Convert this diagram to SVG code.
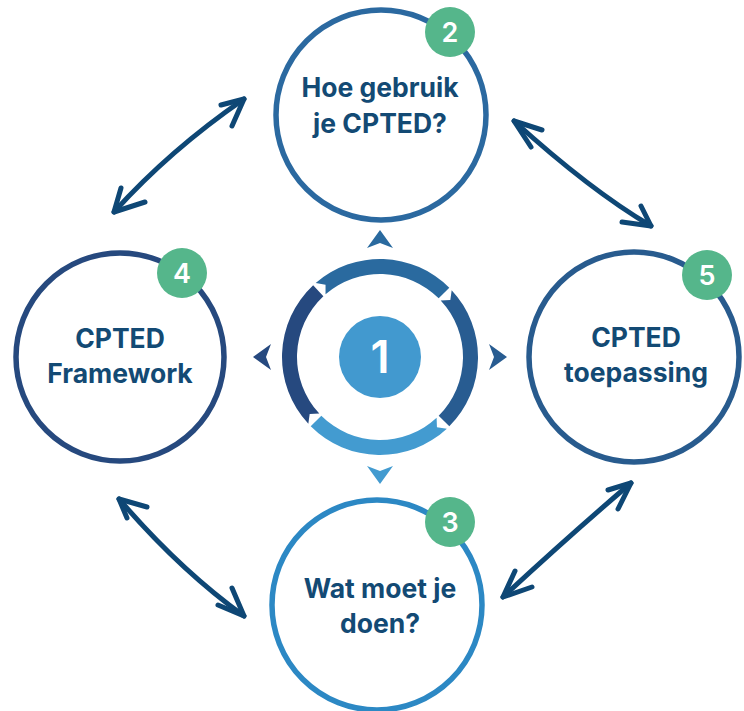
<svg xmlns="http://www.w3.org/2000/svg" width="744" height="711" viewBox="0 0 744 711">
<style>
.node{fill:#fff;stroke-width:5.5}
.lbl{font-family:Inter,"Liberation Sans",sans-serif;font-weight:700;font-size:26.5px;fill:#134a74;text-anchor:middle}
.badge{fill:#55b68b}
.bnum{font-family:Inter,"Liberation Sans",sans-serif;font-weight:600;font-size:27px;fill:#fff;text-anchor:middle}
.arr{fill:none;stroke:#0e4775;stroke-width:5;stroke-linecap:round;stroke-linejoin:round}
</style>
<rect width="744" height="711" fill="#fff"/>
<g id="connectors">
  <path class="arr" d="M114,212 Q170,150 244,99"/>
  <path class="arr" d="M221,105 L244,99 L232,126"/>
  <path class="arr" d="M121,188 L114,212 L145,202"/>
  <path class="arr" d="M514,121 Q590,190 651,226"/>
  <path class="arr" d="M542,130 L514,121 L531,147"/>
  <path class="arr" d="M622,222 L651,226 L641,206"/>
  <path class="arr" d="M119,499 Q180,570 244,616"/>
  <path class="arr" d="M147,507 L119,499 L127,518"/>
  <path class="arr" d="M218,605 L244,616 L232,588"/>
  <path class="arr" d="M503,597 Q570,535 631,483"/>
  <path class="arr" d="M608,490 L631,483 L618,509"/>
  <path class="arr" d="M515,571 L503,597 L532,587"/>
</g>
<g id="center">
  <path fill="#2a6a9f" d="M315.70,283.04 A98,98 0 0 1 449.30,287.70 L438.69,298.31 A83,83 0 0 0 325.54,294.36 L325.54,284.73 Z"/>
  <path fill="#285c91" d="M451.67,290.16 A98,98 0 0 1 449.30,426.30 L438.69,415.69 A83,83 0 0 0 440.70,300.40 L450.33,300.05 Z"/>
  <path fill="#439bd0" d="M446.84,428.67 A98,98 0 0 1 310.70,426.30 L321.31,415.69 A83,83 0 0 0 436.61,417.70 L436.95,427.33 Z"/>
  <path fill="#26497f" d="M308.33,423.84 A98,98 0 0 1 313.16,285.33 L323.39,296.30 A83,83 0 0 0 319.30,413.61 L309.67,413.95 Z"/>
  <path fill="#2a6a9f" d="M380,230 L393,248 L380,243 L367,248 Z"/>
  <path fill="#285c91" d="M507,357 L489,370 L494,357 L489,344 Z"/>
  <path fill="#26497f" d="M253,357 L271,370 L266,357 L271,344 Z"/>
  <path fill="#439bd0" d="M380,484 L393,466 L380,471 L367,466 Z"/>
  <circle cx="380" cy="357" r="41" fill="#4299cf"/>
  <text x="380" y="373" font-family="Inter,'Liberation Sans',sans-serif" font-weight="600" font-size="45" fill="#fff" text-anchor="middle">1</text>
</g>
<g id="node2">
  <circle class="node" cx="381" cy="115" r="105" stroke="#2b69a0"/>
  <text class="lbl" x="380" y="97">Hoe gebruik</text>
  <text class="lbl" x="380" y="133">je CPTED?</text>
  <circle class="badge" cx="450" cy="32" r="25"/>
  <text class="bnum" x="450" y="41.5">2</text>
</g>
<g id="node4">
  <circle class="node" cx="120" cy="357" r="104" stroke="#26497e"/>
  <text class="lbl" x="120" y="348">CPTED</text>
  <text class="lbl" x="120" y="383">Framework</text>
  <circle class="badge" cx="182" cy="273" r="25"/>
  <text class="bnum" x="182" y="282.5">4</text>
</g>
<g id="node5">
  <circle class="node" cx="634" cy="357" r="105" stroke="#285b8e"/>
  <text class="lbl" x="636" y="347">CPTED</text>
  <text class="lbl" x="636" y="382">toepassing</text>
  <circle class="badge" cx="707" cy="275" r="25"/>
  <text class="bnum" x="707" y="284.5">5</text>
</g>
<g id="node3">
  <circle class="node" cx="377" cy="605" r="105" stroke="#2c88c4"/>
  <text class="lbl" x="380" y="598">Wat moet je</text>
  <text class="lbl" x="380" y="633">doen?</text>
  <circle class="badge" cx="450" cy="522" r="25"/>
  <text class="bnum" x="450" y="531.5">3</text>
</g>
</svg>
